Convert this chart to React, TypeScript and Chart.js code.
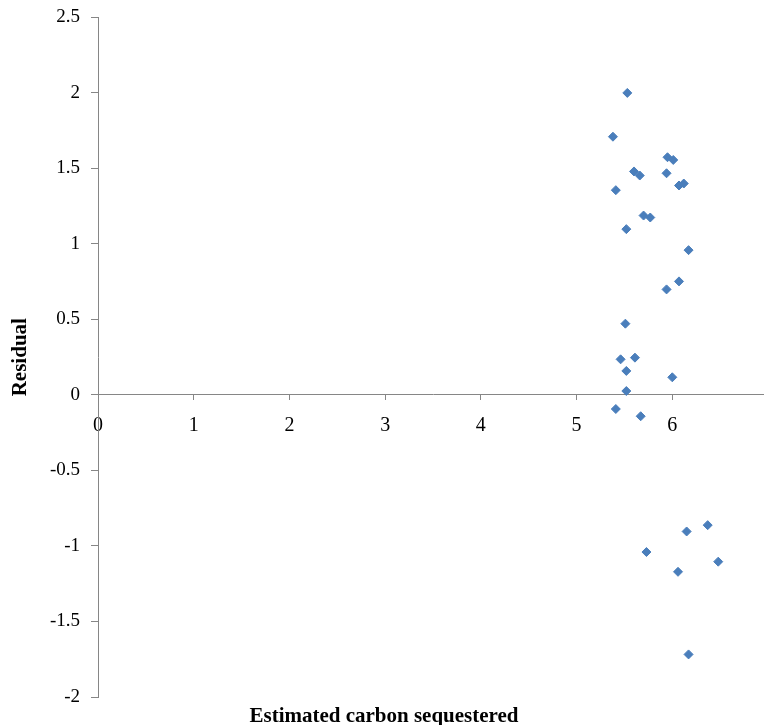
import React, { useEffect, useRef } from "react";
import { Chart, registerables } from "chart.js";

Chart.register(...registerables);

const estimated: number[] = [
  5.53, 5.38, 5.95, 6.01, 5.60, 5.66, 5.94, 6.07, 6.12, 5.41,
  5.70, 5.77, 5.52, 6.17, 6.07, 5.94,
  5.51, 5.46, 5.61, 5.52, 6.00, 5.52, 5.41, 5.67,
  5.73, 6.15, 6.37, 6.06, 6.48, 6.17,
];
const residual: number[] = [
  2.0, 1.71, 1.574, 1.556, 1.48, 1.453, 1.468, 1.387, 1.40, 1.356,
  1.188, 1.175, 1.098, 0.959, 0.752, 0.699,
  0.472, 0.236, 0.247, 0.159, 0.117, 0.026, -0.093, -0.141,
  -1.04, -0.904, -0.862, -1.171, -1.104, -1.718,
];
const xTitle = "Estimated carbon sequestered";
const yTitle = "Residual";
const xRange = [0, 7];
const yRange = [-2, 2.5];

const AXIS = "#868686";
const BLUE = "#4a7ebb";
const SERIF = "'Liberation Serif', 'Times New Roman', serif";

export default function App() {
  const ref = useRef<HTMLCanvasElement | null>(null);
  useEffect(() => {
    if (!ref.current) return;
    const chart = new Chart(ref.current, {
      type: "scatter",
      data: {
        datasets: [
          {
            data: estimated.map((x, i) => ({ x, y: residual[i] })),
            pointStyle: "rectRot",
            pointRadius: 4.5,
            backgroundColor: BLUE,
            borderColor: BLUE,
            borderWidth: 1,
          },
        ],
      },
      options: {
        responsive: false,
        animation: false,
        devicePixelRatio: 1,
        layout: { padding: { top: 11, right: 22, left: 0, bottom: 0 } },
        plugins: {
          legend: { display: false },
          tooltip: { enabled: false },
          title: {
            display: true,
            position: "bottom",
            text: xTitle,
            color: "#000",
            font: { family: SERIF, size: 21, weight: "bold", lineHeight: 1.0 },
            padding: { top: 9, bottom: 0 },
          },
        },
        scales: {
          x: {
            type: "linear",
            position: { y: 0 } as any,
            min: xRange[0],
            max: xRange[1],
            ticks: {
              stepSize: 1,
              color: "#000",
              font: { family: SERIF, size: 20 },
              padding: 14,
            },
            grid: {
              drawOnChartArea: false,
              drawTicks: true,
              tickLength: 5,
              color: AXIS,
            },
            border: { display: true, color: AXIS, width: 1 },
            afterFit: (scale: any) => {
              scale.height = 0;
            },
          },
          y: {
            type: "linear",
            position: "left",
            min: yRange[0],
            max: yRange[1],
            ticks: {
              stepSize: 0.5,
              color: "#000",
              font: { family: SERIF, size: 19 },
              padding: 11,
              callback: (v: any) => String(Number(v)),
            },
            grid: {
              drawOnChartArea: false,
              drawTicks: true,
              tickLength: 7,
              color: AXIS,
            },
            border: { display: true, color: AXIS, width: 1 },
            title: {
              display: true,
              text: yTitle,
              color: "#000",
              font: { family: SERIF, size: 21, weight: "bold" },
              padding: { top: 8, bottom: 0 },
            },
            afterFit: (scale: any) => {
              scale.width = 98;
            },
          },
        },
      },
    });
    return () => chart.destroy();
  }, []);
  return (
    <div
      style={{
        position: "fixed",
        left: 0,
        top: 0,
        width: 764,
        height: 725,
        overflow: "hidden",
        background: "#fff",
      }}
    >
      <canvas
        ref={ref}
        width={790}
        height={732}
        style={{ display: "block", marginTop: -5 }}
      />
    </div>
  );
}
